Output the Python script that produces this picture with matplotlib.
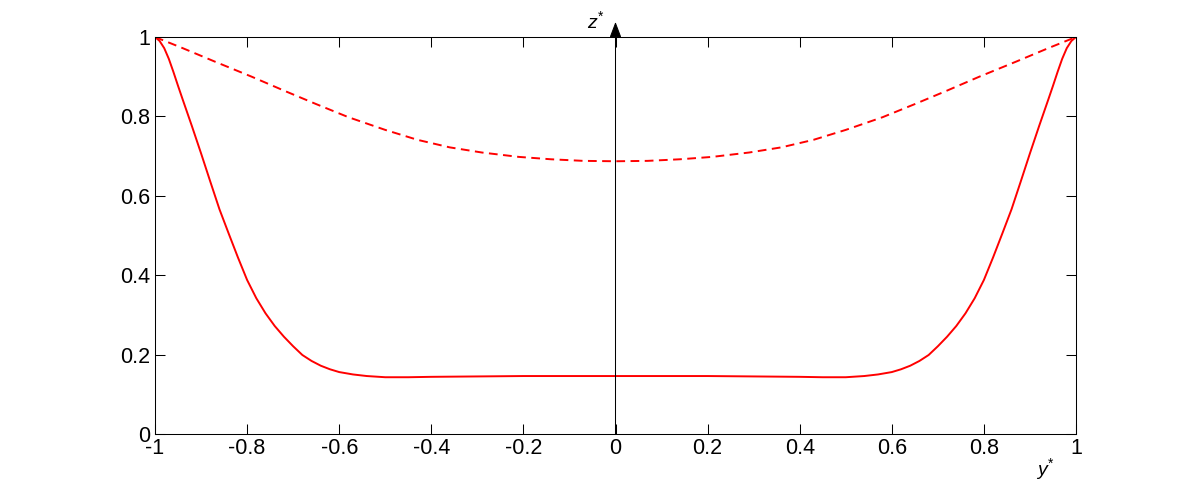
import matplotlib
matplotlib.use("Agg")
import matplotlib.pyplot as plt

plt.rcParams["font.family"] = ["Liberation Sans", "DejaVu Sans"]
plt.rcParams["mathtext.fontset"] = "custom"
plt.rcParams["mathtext.rm"] = "Liberation Sans"
plt.rcParams["mathtext.it"] = "Liberation Sans:italic"

# solid profile
y_solid = [-1.0, -0.99, -0.98, -0.97, -0.96, -0.95, -0.94, -0.92, -0.90, -0.88,
           -0.86, -0.84, -0.82, -0.80, -0.78, -0.76, -0.74, -0.72, -0.70, -0.68,
           -0.66, -0.64, -0.62, -0.60, -0.57, -0.54, -0.50, -0.45, -0.40, -0.30,
           -0.20, -0.10, 0.0,
           0.10, 0.20, 0.30, 0.40, 0.45, 0.50, 0.54, 0.57, 0.60, 0.62,
           0.64, 0.66, 0.68, 0.70, 0.72, 0.74, 0.76, 0.78, 0.80, 0.82,
           0.84, 0.86, 0.88, 0.90, 0.92, 0.94, 0.95, 0.96, 0.97, 0.98,
           0.99, 1.0]
z_solid = [1.0, 0.990, 0.972, 0.945, 0.912, 0.877, 0.843, 0.776, 0.707, 0.636,
           0.566, 0.505, 0.445, 0.388, 0.342, 0.304, 0.272, 0.245, 0.221, 0.199,
           0.184, 0.172, 0.163, 0.156, 0.150, 0.146, 0.143, 0.143, 0.144, 0.145,
           0.146, 0.146, 0.146,
           0.146, 0.146, 0.145, 0.144, 0.143, 0.143, 0.146, 0.150, 0.156, 0.163,
           0.172, 0.184, 0.199, 0.221, 0.245, 0.272, 0.304, 0.342, 0.388, 0.445,
           0.505, 0.566, 0.636, 0.707, 0.776, 0.843, 0.877, 0.912, 0.945, 0.972,
           0.990, 1.0]

# dashed profile
y_dash = [-1.0, -0.94, -0.87, -0.79, -0.72, -0.65, -0.58, -0.50, -0.43, -0.36,
          -0.29, -0.21, -0.14, -0.07, 0.0,
          0.07, 0.14, 0.21, 0.29, 0.36, 0.43, 0.50, 0.58, 0.65, 0.72,
          0.79, 0.87, 0.94, 1.0]
z_dash = [1.0, 0.972, 0.938, 0.900, 0.865, 0.831, 0.798, 0.766, 0.741, 0.722,
          0.709, 0.698, 0.692, 0.688, 0.687,
          0.688, 0.692, 0.698, 0.709, 0.722, 0.741, 0.766, 0.798, 0.831, 0.865,
          0.900, 0.938, 0.972, 1.0]

xticks = [-1, -0.8, -0.6, -0.4, -0.2, 0, 0.2, 0.4, 0.6, 0.8, 1]
xlabels = ["-1", "-0.8", "-0.6", "-0.4", "-0.2", "0", "0.2", "0.4", "0.6", "0.8", "1"]
yticks = [0, 0.2, 0.4, 0.6, 0.8, 1]
ylabels = ["0", "0.2", "0.4", "0.6", "0.8", "1"]

fig = plt.figure(figsize=(11.89, 4.88), dpi=100)
ax = fig.add_axes([155 / 1189, 54 / 488, 921 / 1189, 397 / 488])

ax.plot(y_solid, z_solid, color="red", lw=1.4)
ax.plot(y_dash, z_dash, color="red", lw=1.4, dashes=(4.5, 2.8))

ax.set_xlim(-1, 1)
ax.set_ylim(0, 1)
ax.set_xticks(xticks)
ax.set_xticklabels(xlabels)
ax.set_yticks(yticks)
ax.set_yticklabels(ylabels)
ax.tick_params(direction="in", length=7, width=0.75, top=True, right=True,
               labelsize=15.5)
ax.tick_params(axis="x", pad=3)
ax.tick_params(axis="y", pad=3.5)
for s in ax.spines.values():
    s.set_linewidth(0.75)

# vertical z* axis with arrow
ax.annotate("", xy=(0, 1.038), xytext=(0, 0),
            xycoords=("data", "axes fraction"), textcoords=("data", "axes fraction"),
            arrowprops=dict(arrowstyle="-|>,head_length=0.95,head_width=0.36",
                            mutation_scale=10, lw=0.75, color="black",
                            shrinkA=0, shrinkB=0),
            annotation_clip=False)

fig.text(587 / 1189, 1 - 28 / 488, r"$z^{*}$", fontsize=14, ha="left", va="baseline")
fig.text(1036 / 1189, 1 - 475 / 488, r"$y^{*}$", fontsize=14, ha="left", va="baseline")

fig.savefig("out.png", dpi=100)
